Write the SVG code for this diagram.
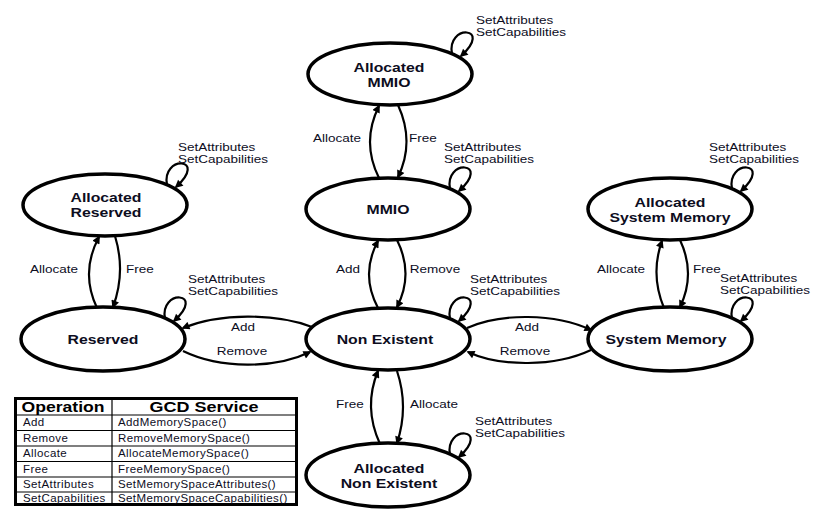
<svg xmlns="http://www.w3.org/2000/svg" width="822" height="519" viewBox="0 0 822 519">
<defs>
<marker id="arr" viewBox="0 0 10 10" refX="8" refY="5" markerWidth="9" markerHeight="8" markerUnits="userSpaceOnUse" orient="auto">
<path d="M0,0 L10,5 L0,10 z" fill="#000"/>
</marker>
<style>
.st{fill:#fff;stroke:#000;stroke-width:3.5}
.nl{font-family:"Liberation Sans",Arial,sans-serif;font-size:13.5px;font-weight:bold;text-anchor:middle;fill:#0d0d1e}
.el{font-family:"Liberation Sans",Arial,sans-serif;font-size:10.7px;fill:#0d0d1e}
.mid{text-anchor:middle}
.cn{fill:none;stroke:#000;stroke-width:2.2;marker-end:url(#arr)}
.th{font-family:"Liberation Sans",Arial,sans-serif;font-size:14px;font-weight:bold;text-anchor:middle;fill:#000}
.td{font-family:"Liberation Sans",Arial,sans-serif;font-size:11.5px;letter-spacing:0.4px;fill:#0d0d1e}
.tl{stroke:#000;stroke-width:1.2}
</style>
</defs>
<rect width="822" height="519" fill="#fff"/>

<g id="connectors">
<path class="cn" d="M379 178 Q361 142 379 106"/>
<path class="cn" d="M398 105 Q415 142 398 177"/>
<path class="cn" d="M378 308 Q360 274 378 241"/>
<path class="cn" d="M397 240 Q414 274 397 307"/>
<path class="cn" d="M97 308 Q80 272 99 237"/>
<path class="cn" d="M115 236 Q126 272 113 307"/>
<path class="cn" d="M664 308 Q650 274 662 241"/>
<path class="cn" d="M680 240 Q696 274 680 307"/>
<path class="cn" d="M380 444 Q363 407 378 371"/>
<path class="cn" d="M397 371 Q409 407 397 443"/>
<path class="cn" d="M312 327 C275 313 220 313 183 328"/>
<path class="cn" d="M183 351 C220 369 275 369 310 352"/>
<path class="cn" d="M467 328 C500 313 555 313 591 330"/>
<path class="cn" d="M591 350 C555 367 500 367 468 352"/>
<path class="cn" d="M452 54 C446 24 494 26 461 56"/>
<path class="cn" d="M450 189 C444 159 492 161 459 191"/>
<path class="cn" d="M167 185 C161 155 209 157 176 187"/>
<path class="cn" d="M165 319 C159 289 207 291 174 321"/>
<path class="cn" d="M450 319 C444 289 492 291 459 321"/>
<path class="cn" d="M732 189 C726 159 774 161 741 191"/>
<path class="cn" d="M732 319 C726 289 774 291 741 321"/>
<path class="cn" d="M450 455 C444 425 492 427 459 457"/>
<text class="el mid" x="337" y="142" textLength="48" lengthAdjust="spacingAndGlyphs">Allocate</text>
<text class="el mid" x="423" y="142" textLength="27.8" lengthAdjust="spacingAndGlyphs">Free</text>
<text class="el mid" x="348" y="273" textLength="24" lengthAdjust="spacingAndGlyphs">Add</text>
<text class="el mid" x="435" y="273" textLength="50.3" lengthAdjust="spacingAndGlyphs">Remove</text>
<text class="el mid" x="54" y="273" textLength="48" lengthAdjust="spacingAndGlyphs">Allocate</text>
<text class="el mid" x="140" y="273" textLength="27.8" lengthAdjust="spacingAndGlyphs">Free</text>
<text class="el mid" x="621" y="273" textLength="48" lengthAdjust="spacingAndGlyphs">Allocate</text>
<text class="el mid" x="707" y="273" textLength="27.8" lengthAdjust="spacingAndGlyphs">Free</text>
<text class="el mid" x="243" y="331" textLength="24" lengthAdjust="spacingAndGlyphs">Add</text>
<text class="el mid" x="242" y="355" textLength="50.3" lengthAdjust="spacingAndGlyphs">Remove</text>
<text class="el mid" x="527" y="331" textLength="24" lengthAdjust="spacingAndGlyphs">Add</text>
<text class="el mid" x="525" y="355" textLength="50.3" lengthAdjust="spacingAndGlyphs">Remove</text>
<text class="el mid" x="350" y="408" textLength="27.8" lengthAdjust="spacingAndGlyphs">Free</text>
<text class="el mid" x="434" y="408" textLength="48" lengthAdjust="spacingAndGlyphs">Allocate</text>
<text class="el" x="476" y="23.5" textLength="77.3" lengthAdjust="spacingAndGlyphs">SetAttributes</text>
<text class="el" x="476" y="35.5" textLength="90" lengthAdjust="spacingAndGlyphs">SetCapabilities</text>
<text class="el" x="444" y="150.5" textLength="77.3" lengthAdjust="spacingAndGlyphs">SetAttributes</text>
<text class="el" x="444" y="162.5" textLength="90" lengthAdjust="spacingAndGlyphs">SetCapabilities</text>
<text class="el" x="178" y="150.5" textLength="77.3" lengthAdjust="spacingAndGlyphs">SetAttributes</text>
<text class="el" x="178" y="162.5" textLength="90" lengthAdjust="spacingAndGlyphs">SetCapabilities</text>
<text class="el" x="188" y="282.5" textLength="77.3" lengthAdjust="spacingAndGlyphs">SetAttributes</text>
<text class="el" x="188" y="294.5" textLength="90" lengthAdjust="spacingAndGlyphs">SetCapabilities</text>
<text class="el" x="470" y="282.5" textLength="77.3" lengthAdjust="spacingAndGlyphs">SetAttributes</text>
<text class="el" x="470" y="294.5" textLength="90" lengthAdjust="spacingAndGlyphs">SetCapabilities</text>
<text class="el" x="709" y="150.5" textLength="77.3" lengthAdjust="spacingAndGlyphs">SetAttributes</text>
<text class="el" x="709" y="162.5" textLength="90" lengthAdjust="spacingAndGlyphs">SetCapabilities</text>
<text class="el" x="720" y="282" textLength="77.3" lengthAdjust="spacingAndGlyphs">SetAttributes</text>
<text class="el" x="720" y="294" textLength="90" lengthAdjust="spacingAndGlyphs">SetCapabilities</text>
<text class="el" x="475" y="424.5" textLength="77.3" lengthAdjust="spacingAndGlyphs">SetAttributes</text>
<text class="el" x="475" y="436.5" textLength="90" lengthAdjust="spacingAndGlyphs">SetCapabilities</text>
</g>

<g id="allocated-mmio">
<ellipse class="st" cx="390" cy="74" rx="82" ry="31"/>
<text class="nl" x="389" y="71.5" textLength="71" lengthAdjust="spacingAndGlyphs">Allocated</text>
<text class="nl" x="389" y="86.5" textLength="43" lengthAdjust="spacingAndGlyphs">MMIO</text>
</g>
<g id="mmio">
<ellipse class="st" cx="388" cy="209" rx="82" ry="31"/>
<text class="nl" x="388" y="214" textLength="43" lengthAdjust="spacingAndGlyphs">MMIO</text>
</g>
<g id="allocated-reserved">
<ellipse class="st" cx="105" cy="205" rx="82" ry="31"/>
<text class="nl" x="106" y="202" textLength="71" lengthAdjust="spacingAndGlyphs">Allocated</text>
<text class="nl" x="106" y="217" textLength="71" lengthAdjust="spacingAndGlyphs">Reserved</text>
</g>
<g id="reserved">
<ellipse class="st" cx="103" cy="339" rx="82" ry="32"/>
<text class="nl" x="103" y="344" textLength="71" lengthAdjust="spacingAndGlyphs">Reserved</text>
</g>
<g id="non-existent">
<ellipse class="st" cx="388" cy="339" rx="82" ry="31"/>
<text class="nl" x="385" y="344" textLength="96.6" lengthAdjust="spacingAndGlyphs">Non Existent</text>
</g>
<g id="allocated-system-memory">
<ellipse class="st" cx="670" cy="209" rx="82" ry="31"/>
<text class="nl" x="670" y="206.5" textLength="71" lengthAdjust="spacingAndGlyphs">Allocated</text>
<text class="nl" x="670" y="221.5" textLength="121" lengthAdjust="spacingAndGlyphs">System Memory</text>
</g>
<g id="system-memory">
<ellipse class="st" cx="670" cy="339" rx="82" ry="32"/>
<text class="nl" x="666" y="344" textLength="121" lengthAdjust="spacingAndGlyphs">System Memory</text>
</g>
<g id="allocated-non-existent">
<ellipse class="st" cx="388" cy="475" rx="82" ry="32"/>
<text class="nl" x="389" y="472.5" textLength="71" lengthAdjust="spacingAndGlyphs">Allocated</text>
<text class="nl" x="389" y="487.5" textLength="96.6" lengthAdjust="spacingAndGlyphs">Non Existent</text>
</g>

<g id="table">
<rect x="15.5" y="398.5" width="281" height="106" fill="#fff" stroke="#000" stroke-width="3"/>
<line class="tl" x1="15" y1="415" x2="297" y2="415" stroke-width="2"/>
<line class="tl" x1="15" y1="430.5" x2="297" y2="430.5"/>
<line class="tl" x1="15" y1="446" x2="297" y2="446"/>
<line class="tl" x1="15" y1="461.5" x2="297" y2="461.5"/>
<line class="tl" x1="15" y1="477" x2="297" y2="477"/>
<line class="tl" x1="15" y1="492" x2="297" y2="492"/>
<line class="tl" x1="112" y1="399" x2="112" y2="504" stroke-width="1.5"/>
<text class="th" x="63" y="412" textLength="83" lengthAdjust="spacingAndGlyphs">Operation</text>
<text class="th" x="204" y="412" textLength="109" lengthAdjust="spacingAndGlyphs">GCD Service</text>
<text class="td" x="23" y="426">Add</text>
<text class="td" x="118" y="426">AddMemorySpace()</text>
<text class="td" x="23" y="441.5">Remove</text>
<text class="td" x="118" y="441.5">RemoveMemorySpace()</text>
<text class="td" x="23" y="457">Allocate</text>
<text class="td" x="118" y="457">AllocateMemorySpace()</text>
<text class="td" x="23" y="472.5">Free</text>
<text class="td" x="118" y="472.5">FreeMemorySpace()</text>
<text class="td" x="23" y="487.5">SetAttributes</text>
<text class="td" x="118" y="487.5">SetMemorySpaceAttributes()</text>
<text class="td" x="23" y="502">SetCapabilities</text>
<text class="td" x="118" y="502">SetMemorySpaceCapabilities()</text>
</g>
</svg>
